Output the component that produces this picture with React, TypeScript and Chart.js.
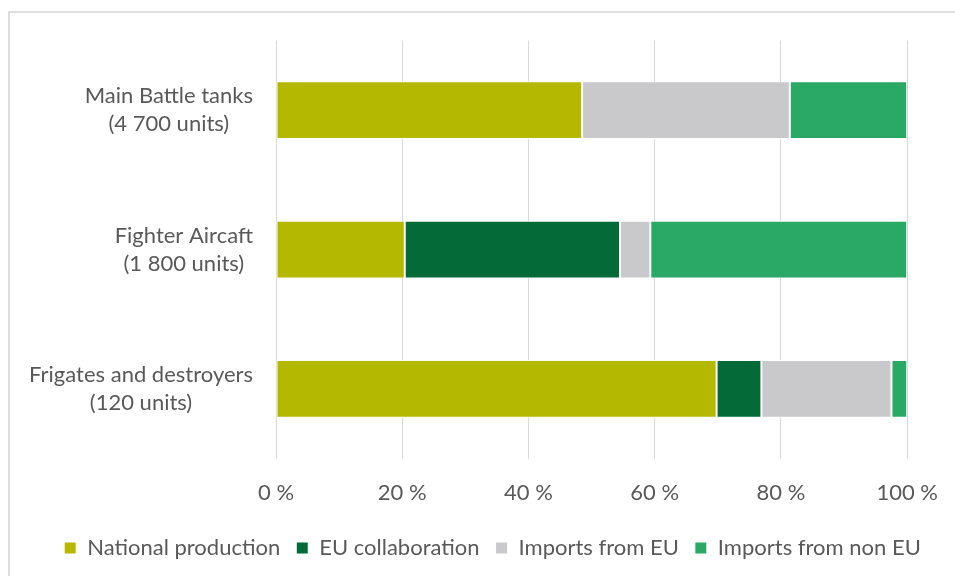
import React, { useEffect, useRef } from "react";
import { Chart, registerables } from "chart.js";

Chart.register(...registerables);

const categories: string[][] = [
  ["Main Battle tanks", "(4 700 units)"],
  ["Fighter Aircaft", "(1 800 units)"],
  ["Frigates and destroyers", "(120 units)"],
];
const seriesNames = ["National production", "EU collaboration", "Imports from EU", "Imports from non EU"];
const nationalProduction = [48.5, 20.4, 69.8];
const euCollaboration = [0, 34.1, 7.1];
const importsFromEU = [32.9, 4.8, 20.6];
const importsFromNonEU = [18.6, 40.7, 2.5];
const xTicks = [0, 20, 40, 60, 80, 100];
const seriesColors = ["#B5B800", "#046A38", "#C9C9CB", "#2AA966"];

const FONT = "Lato, 'Open Sans', sans-serif";
const TEXT = "#595959";
const FS = 22;

const categoryLabelPlugin = {
  id: "categoryLabels",
  afterDraw(chart: any) {
    const ctx = chart.ctx;
    const y = chart.scales.y;
    const area = chart.chartArea;
    ctx.save();
    ctx.font = `${FS}px ${FONT}`;
    ctx.fillStyle = TEXT;
    ctx.textAlign = "center";
    ctx.textBaseline = "middle";
    const lineGap = 28;
    categories.forEach((lines, i) => {
      const cy = y.getPixelForValue(i);
      const w = Math.max(...lines.map((l) => ctx.measureText(l).width));
      const right = area.left - 23;
      const cx = right - w / 2;
      lines.forEach((l, j) => {
        const ly = cy + (j - (lines.length - 1) / 2) * lineGap;
        ctx.fillText(l, cx, ly);
      });
    });
    ctx.restore();
  },
};

export default function App() {
  const ref = useRef<HTMLCanvasElement | null>(null);
  useEffect(() => {
    if (!ref.current) return;
    const values = [nationalProduction, euCollaboration, importsFromEU, importsFromNonEU];
    const chart = new Chart(ref.current, {
      type: "bar",
      data: {
        labels: categories.map((c) => c.join(" ")),
        datasets: seriesNames.map((name, i) => ({
          label: name,
          data: values[i],
          backgroundColor: seriesColors[i],
          borderColor: "#ffffff",
          borderWidth: 1,
          borderSkipped: false,
          barPercentage: 0.415,
          categoryPercentage: 1,
        })),
      },
      options: {
        indexAxis: "y",
        animation: false,
        responsive: true,
        maintainAspectRatio: false,
        layout: { padding: { left: 20, top: 27.5, right: 0, bottom: 7 } },
        scales: {
          x: {
            stacked: true,
            min: 0,
            max: 100,
            afterBuildTicks: (s: any) => {
              s.ticks = xTicks.map((v) => ({ value: v }));
            },
            afterFit: (s: any) => {
              s.height -= 6;
              s.paddingRight -= 4;
            },
            grid: { color: "#d9d9d9", lineWidth: 1, drawTicks: false },
            border: { display: false },
            ticks: {
              padding: 21,
              color: TEXT,
              font: { family: FONT, size: FS },
              callback: (v: any) => `${v} %`,
            },
          },
          y: {
            stacked: true,
            grid: { display: false },
            border: { display: false },
            ticks: { display: false },
            afterFit: (s: any) => {
              s.width = 246;
            },
          },
        },
        plugins: {
          legend: {
            position: "bottom",
            labels: {
              color: TEXT,
              font: { family: FONT, size: FS },
              boxWidth: 12,
              boxHeight: 12,
              padding: 16,
            },
          },
          tooltip: { enabled: false },
        },
      },
      plugins: [categoryLabelPlugin],
    });
    return () => chart.destroy();
  }, []);
  return (
    <div
      style={{
        position: "absolute",
        left: 8,
        top: 11,
        width: 947,
        height: 565,
        borderTop: "2px solid #dedede",
        borderLeft: "2px solid #dedede",
        boxSizing: "border-box",
      }}
    >
      <div style={{ position: "relative", width: 945, height: 563 }}>
        <canvas ref={ref} />
      </div>
    </div>
  );
}
